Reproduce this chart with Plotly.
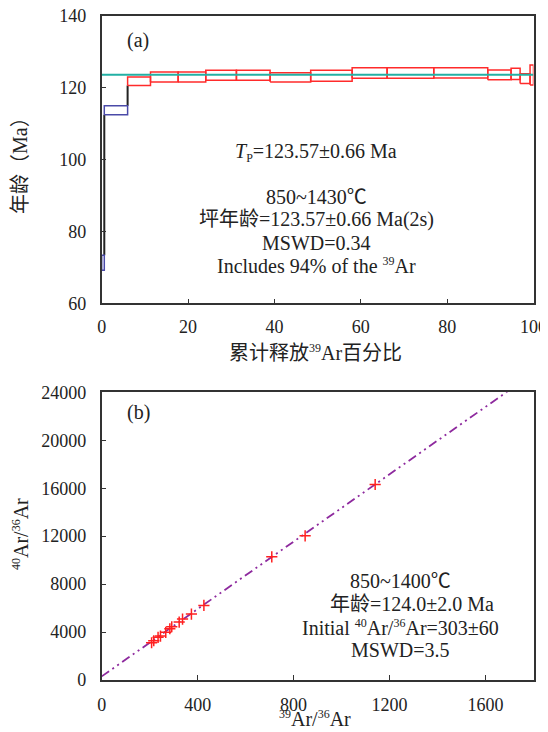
import plotly.graph_objects as go

# ---------------- data: panel (a) age spectrum ----------------
step_left = [0, 0.6, 6.0, 11.3, 17.7, 24.1, 31.2, 39.0, 48.4, 58.0, 66.1, 76.9, 89.4, 94.8, 96.9, 99.2]
step_age = [71.3, 113.7, 121.75, 122.95, 122.95, 123.42, 123.42, 122.86, 123.3, 124.05, 124.05, 124.1, 123.55, 123.8, 122.5, 123.5]
step_err = [2.1, 1.25, 1.2, 1.38, 1.38, 1.38, 1.38, 1.3, 1.5, 1.45, 1.45, 1.4, 1.34, 1.57, 1.33, 2.8]
step_in_plateau = [False, False] + [True] * 14
plateau_age = 123.57

# ---------------- data: panel (b) isochron ----------------
x39_36 = [208, 217, 235, 245, 267, 284, 292, 323, 337, 374, 426, 709, 848, 1140]
y40_36 = [3108, 3275, 3558, 3667, 3975, 4275, 4442, 4833, 5083, 5500, 6225, 10275, 12025, 16308]
iso_intercept = 303
iso_slope = 14.05

xa_ticks = [0, 20, 40, 60, 80, 100]
ya_ticks = [60, 80, 100, 120, 140]
xb_ticks = [0, 400, 800, 1200, 1600]
yb_ticks = [0, 4000, 8000, 12000, 16000, 20000, 24000]

# page body has an 8px margin, so the figure is offset by 8px;
# the figure is made a little larger than the visible window so edge labels are not clipped
OFF = 8
W, H = 560, 740
FONT = "Liberation Serif, 'Noto Sans CJK SC', serif"

step_right = step_left[1:] + [100]

def px(x):
    return (x - OFF) / W

def py(y):
    return 1 - (y - OFF) / H

def sup(t, size=12):
    return f"<sup><span style='font-size:{size}px'>{t}</span></sup>"

fig = go.Figure()

def rect_path(idx):
    xs, ys = [], []
    for i in idx:
        l, r = step_left[i], step_right[i]
        lo, hi = step_age[i] - step_err[i], step_age[i] + step_err[i]
        xs += [l, r, r, l, l, None]
        ys += [lo, lo, hi, hi, lo, None]
    return xs, ys

# black connectors between non-overlapping neighbouring boxes
cx, cy = [], []
for i in range(len(step_left) - 1):
    top_i = step_age[i] + step_err[i]
    bot_n = step_age[i + 1] - step_err[i + 1]
    bot_i = step_age[i] - step_err[i]
    top_n = step_age[i + 1] + step_err[i + 1]
    if bot_n > top_i:
        cx += [step_right[i], step_right[i], None]
        cy += [top_i, bot_n, None]
    elif top_n < bot_i:
        cx += [step_right[i], step_right[i], None]
        cy += [bot_i, top_n, None]
fig.add_trace(go.Scatter(x=cx, y=cy, mode="lines", line=dict(color="#222222", width=2),
                         xaxis="x", yaxis="y", hoverinfo="skip", showlegend=False))

bx, by = rect_path([i for i, p in enumerate(step_in_plateau) if not p])
fig.add_trace(go.Scatter(x=bx, y=by, mode="lines", line=dict(color="#4a4aa8", width=1.5),
                         xaxis="x", yaxis="y", showlegend=False))
rx, ry = rect_path([i for i, p in enumerate(step_in_plateau) if p])
fig.add_trace(go.Scatter(x=rx, y=ry, mode="lines", line=dict(color="#ff2b2b", width=1.5),
                         xaxis="x", yaxis="y", showlegend=False))
fig.add_trace(go.Scatter(x=[xa_ticks[0], xa_ticks[-1]], y=[plateau_age, plateau_age], mode="lines",
                         line=dict(color="#22b0a4", width=2), xaxis="x", yaxis="y", showlegend=False))

# isochron line
line_x = [0, xb_ticks[-1] * 1.2]
line_y = [iso_intercept + iso_slope * v for v in line_x]
fig.add_trace(go.Scatter(x=line_x, y=line_y, mode="lines",
                         line=dict(color="#8e2a9e", width=1.8, dash="9px,4px,2px,4px,2px,4px"),
                         xaxis="x2", yaxis="y2", showlegend=False))
fig.add_trace(go.Scatter(x=x39_36, y=y40_36, mode="markers",
                         marker=dict(symbol="cross-thin", size=8, line=dict(color="#ff2020", width=1.5)),
                         xaxis="x2", yaxis="y2", showlegend=False))

axis_common = dict(showline=True, mirror=True, linecolor="#333333", linewidth=1.5,
                   ticks="inside", ticklen=5, tickcolor="#333333", tickwidth=1.2,
                   showgrid=False, zeroline=False, automargin=False, tickformat="d",
                   ticklabeloverflow="allow",
                   tickfont=dict(family=FONT, size=18, color="#222222"))

fig.update_layout(
    width=W, height=H, margin=dict(l=0, r=0, t=0, b=0, autoexpand=False),
    paper_bgcolor="white", plot_bgcolor="white",
    xaxis=dict(domain=[px(101.7), px(533.5)], range=[0, 100], tickvals=xa_ticks, anchor="y",
               ticklabelstandoff=6, **axis_common),
    yaxis=dict(domain=[py(303.3), py(15.7)], range=[60, 140], tickvals=ya_ticks, anchor="x",
               ticklabelstandoff=10, **axis_common),
    xaxis2=dict(domain=[px(101.7), px(533.5)], range=[0, 1800], tickvals=xb_ticks, anchor="y2",
                ticklabelstandoff=8, **axis_common),
    yaxis2=dict(domain=[py(680), py(392.3)], range=[0, 24000], tickvals=yb_ticks, anchor="x2",
                ticklabelstandoff=10, **axis_common),
)

def ann(text, x, y, size=20, angle=0, xanchor="center"):
    fig.add_annotation(text=text, x=px(x), y=py(y), xref="paper", yref="paper",
                       xanchor=xanchor, yanchor="middle", showarrow=False, textangle=angle,
                       font=dict(family=FONT, size=size, color="#222222"))

ann("(a)", 138, 40)
ann("<i>T</i><sub><span style='font-size:12px'>P</span></sub>=123.57±0.66 Ma", 316, 152)
ann("850~1430℃", 316, 197)
ann("坪年龄=123.57±0.66 Ma(2s)", 316, 220)
ann("MSWD=0.34", 316, 243)
ann("Includes 94% of the " + sup("39") + "Ar", 316, 265)
ann("年龄（Ma）", 20, 161, angle=-90)
ann("累计释放" + sup("39") + "Ar百分比", 315, 352)

ann("(b)", 138, 412)
ann("850~1400℃", 400, 581)
ann("年龄=124.0±2.0 Ma", 412, 604)
ann("Initial " + sup("40") + "Ar/" + sup("36") + "Ar=303±60", 400, 627)
ann("MSWD=3.5", 400, 650)
ann(sup("40") + "Ar/" + sup("36") + "Ar", 20, 534, angle=-90)
ann(sup("39") + "Ar/" + sup("36") + "Ar", 315, 718)

fig.write_html("out.html")
